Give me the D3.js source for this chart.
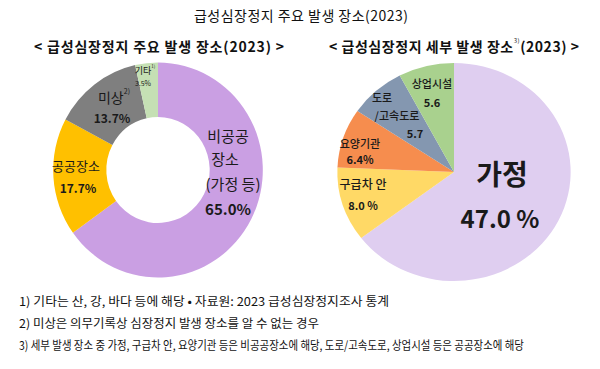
<!DOCTYPE html>
<html>
<head>
<meta charset="utf-8">
<script src="https://cdn.jsdelivr.net/npm/d3@7"></script>
<style>
  body { margin: 0; background: #fff; }
  svg { display: block; font-family: "Noto Sans CJK KR", "Noto Sans", sans-serif; }
</style>
</head>
<body>
<svg id="chart" width="600" height="369"></svg>
<script>
// left donut: main places
var mainLabels = ['비공공장소 (가정 등)', '공공장소', '미상', '기타'];
var mainValues = [65.0, 17.7, 13.7, 3.5];
var mainColors = ['#CA9FE3', '#FFC000', '#7F7F7F', '#C5E0B4'];

// right pie: detail places
var detailLabels = ['가정', '구급차 안', '요양기관', '도로/고속도로', '상업시설'];
var detailValues = [47.0, 8.0, 6.4, 5.7, 5.6];
var detailColors = ['#DFCEF0', '#FFD966', '#F68D4E', '#8497B0', '#A9D18E'];

var footnotes = [
  '1) 기타는 산, 강, 바다 등에 해당 • 자료원: 2023 급성심장정지조사 통계',
  '2) 미상은 의무기록상 심장정지 발생 장소를 알 수 없는 경우',
  '3) 세부 발생 장소 중 가정, 구급차 안, 요양기관 등은 비공공장소에 해당, 도로/고속도로, 상업시설 등은 공공장소에 해당'
];

var svg = d3.select('#chart');

svg.append('text')
  .attr('x', 301).attr('y', 21)
  .attr('text-anchor', 'middle')
  .attr('font-size', 14)
  .attr('fill', '#111')
  .attr('textLength', 214)
  .text('급성심장정지 주요 발생 장소(2023)');

svg.append('text')
  .attr('x', 159).attr('y', 52)
  .attr('text-anchor', 'middle')
  .attr('font-size', 14).attr('font-weight', 'bold')
  .attr('fill', '#111')
  .attr('textLength', 250)
  .text('< 급성심장정지 주요 발생 장소(2023) >');

var st = svg.append('text')
  .attr('x', 454).attr('y', 52)
  .attr('text-anchor', 'middle')
  .attr('font-size', 14).attr('font-weight', 'bold')
  .attr('fill', '#111')
  .attr('textLength', 250);
st.append('tspan').text('< 급성심장정지 세부 발생 장소');
st.append('tspan').attr('font-size', 6).attr('font-weight', 'normal').attr('dy', -9).text('3)');
st.append('tspan').attr('dy', 9).text('(2023) >');

var pie = d3.pie().sort(null).value(function(d) { return d; });

function drawPie(values, colors, cx, cy, r, inner, sx) {
  var g = svg.append('g')
    .attr('transform', 'translate(' + cx + ',' + cy + ') scale(' + sx + ',1)');
  var arc = d3.arc().innerRadius(inner).outerRadius(r);
  g.selectAll('path')
    .data(pie(values))
    .enter()
    .append('path')
    .attr('d', arc)
    .attr('fill', function(d, i) { return colors[i]; });
}

drawPie(mainValues, mainColors, 158, 170, 107.5, 53, 0.975);
drawPie(detailValues, detailColors, 454, 172, 109, 0, 1.07);

// label text blocks: [dx, dy, size, weight, text, sup]
function addLabel(cx, cy, l) {
  var t = svg.append('text')
    .attr('x', cx + l[0]).attr('y', cy + l[1])
    .attr('text-anchor', 'middle')
    .attr('dominant-baseline', 'central')
    .attr('font-size', l[2])
    .attr('font-weight', l[3])
    .attr('fill', '#1a1a1a');
  t.append('tspan').text(l[4]);
  if (l[5]) {
    t.append('tspan').attr('font-size', l[2] * 0.5).attr('dy', -l[2] * 0.45).attr('font-weight', 'normal').text(l[5]);
  }
}

var mainLabelLayout = [
  [70, -35, 15, 'normal', '비공공'],
  [67, -12, 15, 'normal', '장소'],
  [75, 13, 15, 'normal', '(가정 등)'],
  [70, 38, 15, 'bold', mainValues[0].toFixed(1) + '%'],
  [-82, -5, 13, 'normal', mainLabels[1]],
  [-80, 17, 12, 'bold', mainValues[1].toFixed(1) + '%'],
  [-44, -73, 14, 'normal', mainLabels[2], '2)'],
  [-46, -53, 12, 'bold', mainValues[2].toFixed(1) + '%'],
  [-13, -100, 9, 'normal', mainLabels[3], '1)'],
  [-15, -87, 7, 'normal', mainValues[3].toFixed(1) + '%']
];
mainLabelLayout.forEach(function(l) { addLabel(158, 170, l); });

var detailLabelLayout = [
  [48, 1, 28, 'bold', detailLabels[0]],
  [46, 45, 24, 'bold', detailValues[0].toFixed(1) + ' %'],
  [-91, 11, 12, '500', detailLabels[1]],
  [-91, 33, 11, 'bold', detailValues[1].toFixed(1) + ' %'],
  [-94, -29, 11, '500', detailLabels[2]],
  [-94, -13, 11, 'bold', detailValues[2].toFixed(1) + '%'],
  [-72, -75, 11, '500', '도로'],
  [-57, -57, 11, '500', '/고속도로'],
  [-39, -39, 11, 'bold', detailValues[3].toFixed(1)],
  [-22, -89, 11, '500', detailLabels[4]],
  [-22, -70, 11, 'bold', detailValues[4].toFixed(1)]
];
detailLabelLayout.forEach(function(l) { addLabel(454, 172, l); });

var fnWidths = [370, 300, 505];
var fn = svg.append('g').attr('font-size', 12).attr('fill', '#111');
fn.selectAll('text')
  .data(footnotes)
  .enter()
  .append('text')
  .attr('x', 19)
  .attr('y', function(d, i) { return 306 + i * 22; })
  .attr('textLength', function(d, i) { return fnWidths[i]; })
  .attr('lengthAdjust', 'spacingAndGlyphs')
  .text(function(d) { return d; });
</script>
</body>
</html>
